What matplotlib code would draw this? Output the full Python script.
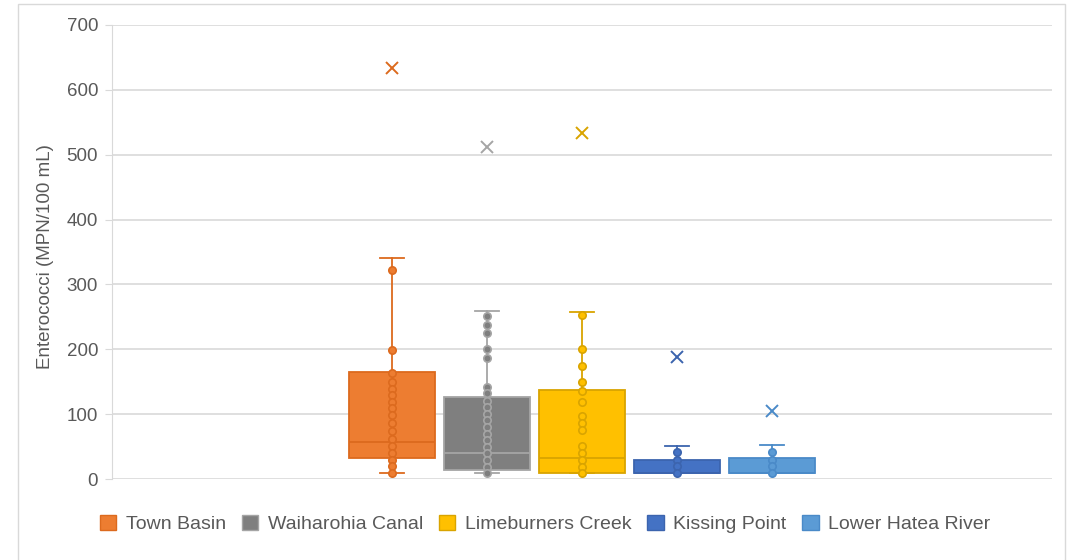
import matplotlib.pyplot as plt
from matplotlib.patches import Patch, Rectangle

plt.rcParams['font.family'] = ['Liberation Sans', 'DejaVu Sans']

# data
sites = ['Town Basin', 'Waiharohia Canal', 'Limeburners Creek', 'Kissing Point', 'Lower Hatea River']
q1 = [32, 14, 10, 9, 10]
med = [57, 40, 32, 10, 10]
q3 = [165, 127, 138, 30, 32]
whislo = [10, 10, 10, 10, 10]
whishi = [341, 259, 257, 51, 53]
means = [633, 512, 533, 188, 105]

pts_town = [323, 199, 164, 150, 139, 129, 119, 109, 98, 87, 74, 61, 51, 40, 30, 20, 10]
pts_waih = [251, 237, 225, 200, 187, 142, 132, 121, 111, 101, 91, 80, 70, 60, 50, 40, 29, 19, 10]
pts_lime = [253, 200, 175, 150, 135, 119, 97, 87, 75, 51, 40, 30, 19, 10]
pts_kiss = [41, 30, 20, 10]
pts_lower = [41, 30, 20, 10]
points = [pts_town, pts_waih, pts_lime, pts_kiss, pts_lower]

fill = ['#ED7D31', '#7F7F7F', '#FFC000', '#4472C4', '#5B9BD5']
line = ['#DC6A1E', '#A5A5A5', '#D9A400', '#3C64AE', '#4A8AC8']

fig = plt.figure(figsize=(10.67, 5.6), dpi=100)
ax = fig.add_axes([0.105, 0.1446, 0.881, 0.8108])

# outer chart border like Excel
fig.patches.append(Rectangle((18/1067, -0.01), (1065-18)/1067, 1 - 4/560 + 0.01,
                             transform=fig.transFigure, fill=False,
                             edgecolor='#d9d9d9', lw=1))

pos = [0.5 + (i - 2) * 0.101 for i in range(5)]
for i in range(5):
    st = [dict(med=med[i], q1=q1[i], q3=q3[i], whislo=whislo[i], whishi=whishi[i])]
    c = line[i]
    ax.bxp(st, positions=[pos[i]], widths=0.0915, showfliers=False, patch_artist=True,
           boxprops=dict(facecolor=fill[i], edgecolor=c, lw=1.3),
           medianprops=dict(color=c, lw=1.3),
           whiskerprops=dict(color=c, lw=1.3),
           capprops=dict(color=c, lw=1.3), capwidths=0.026, manage_ticks=False)
    ax.plot([pos[i]] * len(points[i]), points[i], 'o', ms=5.3, mfc=fill[i], mec=c,
            mew=1.2, zorder=4)
    ax.plot(pos[i], means[i], 'x', ms=9, color=c, mew=1.4, zorder=4)

ax.set_xlim(0, 1)
ax.set_ylim(0, 700)
ax.set_yticks(range(0, 701, 100))
ax.set_xticks([])
ax.grid(axis='y', color='#d9d9d9', lw=1.2)
ax.set_axisbelow(True)
for s in ['top', 'right', 'bottom']:
    ax.spines[s].set_visible(False)
ax.spines['left'].set_color('#d9d9d9')
ax.tick_params(axis='y', colors='#d9d9d9', labelcolor='#595959', labelsize=13.5,
               length=5, pad=5)
ax.set_ylabel('Enterococci (MPN/100 mL)', fontsize=13.5, color='#595959')
ax.yaxis.set_label_coords(-0.062, 0.49)

handles = [Patch(facecolor=fill[i], edgecolor=line[i], label=sites[i]) for i in range(5)]
fig.legend(handles=handles, loc='center', bbox_to_anchor=(0.511, 0.064), ncol=5,
           frameon=False, fontsize=14, labelcolor='#595959', handlelength=0.85,
           handleheight=0.85, handletextpad=0.5, columnspacing=0.8)

fig.savefig('out.png', dpi=100)
